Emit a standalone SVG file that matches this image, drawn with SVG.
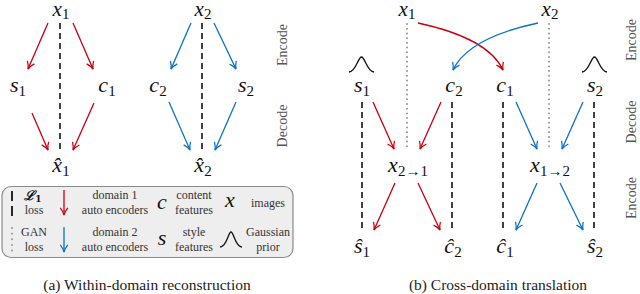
<svg xmlns="http://www.w3.org/2000/svg" width="640" height="294" viewBox="0 0 640 294">
<defs>
<style>
.m{font-family:"Liberation Serif","DejaVu Serif",serif;font-style:italic;font-size:22px;fill:#111;text-anchor:middle}
.m tspan.s{font-style:normal;font-size:15px}
.top{font-size:21px}
.t{font-family:"Liberation Serif","DejaVu Serif",serif;font-size:12px;fill:#333;text-anchor:middle}
.side{font-family:"Liberation Serif","DejaVu Serif",serif;font-size:14px;fill:#555;text-anchor:middle}
.cap{font-family:"Liberation Serif","DejaVu Serif",serif;font-size:15.5px;fill:#222;text-anchor:middle}
.r{stroke:#c8000f;stroke-width:1.3;fill:none;marker-end:url(#ar)}
.b{stroke:#0a72c6;stroke-width:1.3;fill:none;marker-end:url(#ab)}
.d{stroke:#111;stroke-width:1.6;stroke-dasharray:6,4;fill:none}
.g{stroke:#8a8a8a;stroke-width:1.8;stroke-dasharray:0.1,4.6;stroke-linecap:round;fill:none}
.bump{stroke:#111;stroke-width:1.3;fill:none}
</style>
<marker id="ar" viewBox="0 0 10 10" refX="9" refY="5" markerWidth="9" markerHeight="9" markerUnits="userSpaceOnUse" orient="auto"><path d="M1,0.8 Q5,4 9,5 Q5,6 1,9.2" fill="none" stroke="#c8000f" stroke-width="1.4"/></marker>
<marker id="ab" viewBox="0 0 10 10" refX="9" refY="5" markerWidth="9" markerHeight="9" markerUnits="userSpaceOnUse" orient="auto"><path d="M1,0.8 Q5,4 9,5 Q5,6 1,9.2" fill="none" stroke="#0a72c6" stroke-width="1.4"/></marker>
</defs>
<rect width="640" height="294" fill="#fff"/>

<!-- Panel (a) nodes -->
<g id="a-x1"><text class="m top" x="61" y="16">x<tspan class="s" dy="3">1</tspan></text></g>
<g id="a-s1"><text class="m" x="18" y="92">s<tspan class="s" dy="4">1</tspan></text></g>
<g id="a-c1"><text class="m" x="107" y="92">c<tspan class="s" dy="4">1</tspan></text></g>
<g id="a-xh1"><text class="m" x="61" y="172">x̂<tspan class="s" dy="4">1</tspan></text></g>
<g id="a-x2"><text class="m top" x="203" y="16">x<tspan class="s" dy="3">2</tspan></text></g>
<g id="a-c2"><text class="m" x="158" y="92">c<tspan class="s" dy="4">2</tspan></text></g>
<g id="a-s2"><text class="m" x="246" y="92">s<tspan class="s" dy="4">2</tspan></text></g>
<g id="a-xh2"><text class="m" x="203" y="172">x̂<tspan class="s" dy="4">2</tspan></text></g>

<!-- Panel (b) nodes -->
<g id="b-x1"><text class="m top" x="407" y="16">x<tspan class="s" dy="3">1</tspan></text></g>
<g id="b-x2"><text class="m top" x="550" y="16">x<tspan class="s" dy="3">2</tspan></text></g>
<g id="b-s1"><text class="m" x="362" y="92">s<tspan class="s" dy="4">1</tspan></text><path class="bump" d="M349,72 C356,72 358,57 361.5,57 C365,57 367,72 374,72"/></g>
<g id="b-c2"><text class="m" x="454" y="92">c<tspan class="s" dy="4">2</tspan></text></g>
<g id="b-c1"><text class="m" x="505" y="92">c<tspan class="s" dy="4">1</tspan></text></g>
<g id="b-s2"><text class="m" x="595" y="92">s<tspan class="s" dy="4">2</tspan></text><path class="bump" d="M582,72 C589,72 591,57 594.5,57 C598,57 600,72 607,72"/></g>
<g id="b-x21"><text class="m" x="408" y="172">x<tspan class="s" dy="4">2→1</tspan></text></g>
<g id="b-x12"><text class="m" x="550" y="172">x<tspan class="s" dy="4">1→2</tspan></text></g>
<g id="b-sh1"><text class="m" x="362" y="253">ŝ<tspan class="s" dy="4">1</tspan></text></g>
<g id="b-ch2"><text class="m" x="453" y="253">ĉ<tspan class="s" dy="4">2</tspan></text></g>
<g id="b-ch1"><text class="m" x="505" y="253">ĉ<tspan class="s" dy="4">1</tspan></text></g>
<g id="b-sh2"><text class="m" x="595" y="253">ŝ<tspan class="s" dy="4">2</tspan></text></g>

<!-- connectors -->
<g id="connectors">
<line class="d" x1="60" y1="23" x2="60" y2="152"/>
<line class="d" x1="202" y1="23" x2="202" y2="152"/>
<line class="r" x1="48" y1="23" x2="28" y2="69"/>
<line class="r" x1="73" y1="23" x2="93" y2="69"/>
<line class="r" x1="32" y1="113" x2="48" y2="150"/>
<line class="r" x1="94" y1="103" x2="73" y2="150"/>
<line class="b" x1="191" y1="23" x2="171" y2="69"/>
<line class="b" x1="214" y1="23" x2="236" y2="69"/>
<line class="b" x1="169" y1="102" x2="190" y2="150"/>
<line class="b" x1="236" y1="102" x2="215" y2="150"/>

<line class="g" x1="407" y1="24" x2="407" y2="150"/>
<line class="g" x1="549" y1="24" x2="549" y2="150"/>
<path class="r" d="M418,23 Q488,38 503,70"/>
<path class="b" d="M538,23 Q468,38 453,70"/>
<line class="d" x1="362" y1="102" x2="362" y2="230"/>
<line class="d" x1="452" y1="102" x2="452" y2="230"/>
<line class="d" x1="503" y1="102" x2="503" y2="230"/>
<line class="d" x1="594" y1="102" x2="594" y2="230"/>
<line class="r" x1="373" y1="102" x2="394" y2="149"/>
<line class="r" x1="441" y1="102" x2="420" y2="149"/>
<line class="r" x1="395" y1="183" x2="374" y2="230"/>
<line class="r" x1="418" y1="183" x2="440" y2="230"/>
<line class="b" x1="516" y1="102" x2="537" y2="149"/>
<line class="b" x1="583" y1="102" x2="562" y2="149"/>
<line class="b" x1="537" y1="183" x2="516" y2="230"/>
<line class="b" x1="560" y1="183" x2="583" y2="230"/>
</g>

<!-- side labels -->
<text class="side" transform="translate(287,45) rotate(-90)">Encode</text>
<text class="side" transform="translate(287,126) rotate(-90)">Decode</text>
<text class="side" transform="translate(636,40) rotate(-90)">Encode</text>
<text class="side" transform="translate(636,122) rotate(-90)">Decode</text>
<text class="side" transform="translate(636,198) rotate(-90)">Encode</text>

<!-- legend -->
<g id="legend">
<rect x="2" y="186.5" width="291" height="71" rx="9" fill="#eeeeee" stroke="#8a8a8a" stroke-width="1.2"/>
<line x1="12" y1="191" x2="12" y2="201" stroke="#111" stroke-width="1.8"/>
<line x1="12" y1="206" x2="12" y2="216" stroke="#111" stroke-width="1.8"/>
<text x="33" y="200" style="font-family:'DejaVu Serif',serif;font-size:13px;font-weight:bold;font-style:italic;fill:#111;text-anchor:middle">ℒ<tspan dy="2" style="font-size:9px;font-style:normal">1</tspan></text>
<text class="t" x="34" y="214">loss</text>
<line class="g" x1="12" y1="228" x2="12" y2="252" style="stroke-dasharray:0.1,5.5"/>
<text class="t" x="34" y="236">GAN</text>
<text class="t" x="34" y="251">loss</text>
<line class="r" x1="64" y1="190" x2="64" y2="215"/>
<line class="b" x1="64" y1="227" x2="64" y2="252"/>
<text class="t" x="115" y="199">domain 1</text>
<text class="t" x="115" y="214">auto encoders</text>
<text class="t" x="115" y="236">domain 2</text>
<text class="t" x="115" y="251">auto encoders</text>
<text class="m" x="162" y="209">c</text>
<text class="m" x="162" y="245">s</text>
<text class="t" x="194" y="199">content</text>
<text class="t" x="194" y="214">features</text>
<text class="t" x="194" y="236">style</text>
<text class="t" x="194" y="251">features</text>
<text class="m" x="230" y="207">x</text>
<path class="bump" d="M220,247 C227,247 228,232 231,232 C234,232 235,247 242,247"/>
<text class="t" x="268" y="207">images</text>
<text class="t" x="268" y="236">Gaussian</text>
<text class="t" x="268" y="251">prior</text>
</g>

<!-- captions -->
<text class="cap" x="147" y="290">(a) Within-domain reconstruction</text>
<text class="cap" x="498" y="290">(b) Cross-domain translation</text>
</svg>
